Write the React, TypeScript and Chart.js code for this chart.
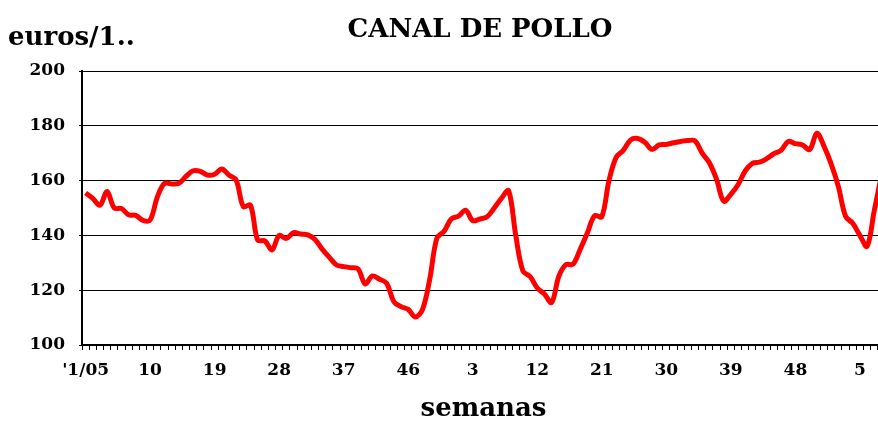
import React, { useEffect, useRef } from "react";
import { Chart, registerables } from "chart.js";

Chart.register(...registerables);

const chartTitle = "CANAL DE POLLO";
const unitLabel = "euros/1..";
const xAxisTitle = "semanas";

const weeks2005: string[] = Array.from({ length: 52 }, (_, i) => (i === 0 ? "'1/05" : String(i + 1)));
const weeks2006: string[] = Array.from({ length: 52 }, (_, i) => String(i + 1));
const weeks2007: string[] = Array.from({ length: 8 }, (_, i) => String(i + 1));
const categories: string[] = [...weeks2005, ...weeks2006, ...weeks2007];

const prices2005: number[] = [
  155.5, 153.5, 151, 156, 150, 149.8, 147.5, 147.3, 145.5, 145.6,
  154, 159, 158.8, 159, 161.5, 163.6, 163.4, 162, 162.3, 164.2,
  162, 160.2, 150.5, 151, 138.3, 138, 134.7, 140, 138.9, 141,
  140.5, 140.2, 138.5, 135, 132, 129.2, 128.6, 128.2, 127.8, 122.3,
  125.2, 124, 122.5, 115.8, 114, 113, 110.2, 113, 124, 139,
  141.5, 146,
];
const prices2006: number[] = [
  147, 149.2, 145.4, 146, 146.8, 150, 153.5, 156.3, 140, 127,
  125, 120.8, 118.6, 115.5, 125, 129.3, 129.5, 135, 141, 147.2,
  146.8, 160, 168.5, 171, 174.8, 175.4, 174, 171.4, 173, 173.2,
  173.8, 174.3, 174.6, 174.5, 170, 166.5, 160.5, 152.5, 155, 158.5,
  163.5, 166.3, 166.7, 168, 169.8, 171, 174.3, 173.5, 173, 171.3,
  177.3, 172.5,
];
const prices2007: number[] = [166, 157.8, 147, 144.4, 140, 136, 149, 162];
const prices: number[] = [...prices2005, ...prices2006, ...prices2007];

const yTicks: number[] = [100, 120, 140, 160, 180, 200];

const FONT = '"DejaVu Serif", "Liberation Serif", serif';

const textPlugin = {
  id: "extraTexts",
  afterDraw(chart: any) {
    const ctx = chart.ctx;
    ctx.save();
    ctx.fillStyle = "#000";
    ctx.textBaseline = "alphabetic";
    ctx.font = `bold 26px ${FONT}`;
    ctx.textAlign = "center";
    ctx.fillText(chartTitle, 480, 37);
    ctx.font = `bold 26px ${FONT}`;
    ctx.textAlign = "left";
    ctx.fillText(unitLabel, 8, 45);
    ctx.restore();
  },
};

export default function App() {
  const ref = useRef<HTMLCanvasElement | null>(null);
  useEffect(() => {
    if (!ref.current) return;
    const chart = new Chart(ref.current, {
      type: "line",
      data: {
        labels: categories,
        datasets: [
          {
            data: prices,
            borderColor: "#ff0000",
            borderWidth: 5,
            pointRadius: 0,
            tension: 0.35,
            fill: false,
          },
        ],
      },
      options: {
        animation: false,
        responsive: false,
        layout: { padding: { top: 71, right: 15, left: 0, bottom: 0 } },
        plugins: {
          legend: { display: false },
          tooltip: { enabled: false },
          title: { display: false },
        },
        scales: {
          x: {
            type: "category",
            offset: true,
            afterFit: (s: any) => {
              s.height = 77;
            },
            grid: {
              offset: true,
              drawOnChartArea: false,
              drawTicks: true,
              tickLength: 5,
              color: "#000",
              lineWidth: 1,
            },
            border: { color: "#000", width: 2 },
            ticks: {
              autoSkip: false,
              maxRotation: 0,
              minRotation: 0,
              padding: 10,
              color: "#000",
              font: { family: FONT, size: 17, weight: "bold" },
              callback: (_v: any, i: number) => (i % 9 === 0 ? categories[i] : ""),
            },
            title: {
              display: true,
              text: xAxisTitle,
              color: "#000",
              font: { family: FONT, size: 26, weight: "bold", lineHeight: 1.0 },
              padding: { top: 0, bottom: 0 },
            },
          },
          y: {
            min: 100,
            max: 200,
            afterFit: (s: any) => {
              s.width = 82;
            },
            afterBuildTicks: (s: any) => {
              s.ticks = yTicks.map((v) => ({ value: v }));
            },
            grid: {
              color: "#000",
              lineWidth: 1,
              drawTicks: true,
              tickLength: 3,
            },
            border: { color: "#000", width: 2 },
            ticks: {
              padding: 14,
              color: "#000",
              font: { family: FONT, size: 17, weight: "bold" },
            },
          },
        },
      },
      plugins: [textPlugin],
    });
    return () => chart.destroy();
  }, []);
  return (
    <div
      style={{
        position: "fixed",
        left: 0,
        top: 0,
        width: 878,
        height: 422,
        overflow: "hidden",
        background: "#fff",
      }}
    >
      <canvas ref={ref} width={900} height={422} style={{ display: "block" }} />
    </div>
  );
}
